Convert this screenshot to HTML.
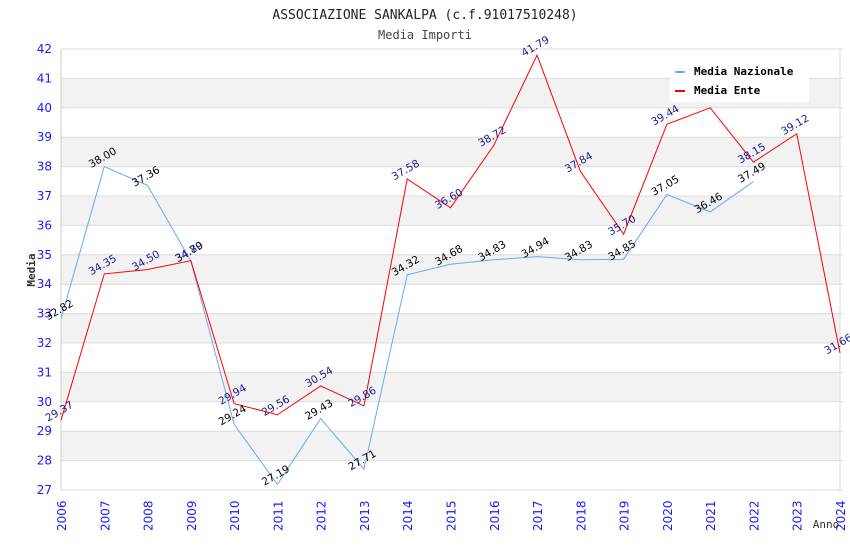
<!DOCTYPE html>
<html><head><meta charset="utf-8"><style>
body{margin:0;background:#fff}
svg{display:block}
text{font-family:"DejaVu Sans","Liberation Sans",sans-serif}
.mono{font-family:"DejaVu Sans Mono","Liberation Mono",monospace}
</style></head><body>
<svg id="chart" width="850" height="550" xmlns="http://www.w3.org/2000/svg">
<text class="mono" x="425" y="19" text-anchor="middle" font-size="13" fill="#222">ASSOCIAZIONE SANKALPA (c.f.91017510248)</text>
<text class="mono" x="425" y="39" text-anchor="middle" font-size="12" fill="#444">Media Importi</text>
<g id="bands"></g><g id="axes"></g><g id="series"></g><g id="labels"></g>
<text class="mono" transform="translate(35,270) rotate(-90)" text-anchor="middle" font-size="11" font-weight="bold" fill="#333">Media</text>
<text class="mono" x="826" y="528" text-anchor="middle" font-size="11" fill="#333">Anno</text>
<g>
<rect x="670" y="60" width="139" height="42" fill="#fff"/>
<rect x="675" y="71" width="10" height="2" fill="#66aaee"/>
<text class="mono" x="694" y="75" font-size="11" font-weight="bold" fill="#000">Media Nazionale</text>
<rect x="675" y="90" width="10" height="2" fill="#ff0000"/>
<text class="mono" x="694" y="94" font-size="11" font-weight="bold" fill="#000">Media Ente</text>
</g>
</svg>
<script>
const years=[2006,2007,2008,2009,2010,2011,2012,2013,2014,2015,2016,2017,2018,2019,2020,2021,2022,2023,2024];
const nazionale=[32.82,38.00,37.36,34.79,29.24,27.19,29.43,27.71,34.32,34.68,34.83,34.94,34.83,34.85,37.05,36.46,37.49];
const ente=[29.37,34.35,34.50,34.80,29.94,29.56,30.54,29.86,37.58,36.60,38.72,41.79,37.84,35.70,39.44,40.00,38.15,39.12,31.66];
const yTicks=[27,28,29,30,31,32,33,34,35,36,37,38,39,40,41,42];
const NS="http://www.w3.org/2000/svg";
const X0=61,X1=840,Y0=490,Y1=49;
const xs=i=>X0+(X1-X0)*i/(years.length-1);
const ys=v=>Y0-(v-27)/(42-27)*(Y0-Y1);
function mk(tag,attrs,parent){const e=document.createElementNS(NS,tag);for(const k in attrs)e.setAttribute(k,attrs[k]);parent.appendChild(e);return e;}
const bands=document.getElementById('bands'),axes=document.getElementById('axes'),ser=document.getElementById('series'),lab=document.getElementById('labels');
for(let t=28;t<42;t+=2){const r=mk('rect',{x:X0,y:ys(t+1),width:X1-X0,height:ys(t)-ys(t+1),fill:'#f2f2f2'},bands);

}
yTicks.forEach(t=>{const l=mk('line',{x1:X0,x2:X1+3,y1:ys(t),y2:ys(t),stroke:'#dcdcdc'},axes);


const tx=mk('text',{x:X0-9,y:ys(t)+4,'text-anchor':'end','font-size':12,fill:'#1a1aff'},axes);tx.textContent=t;

});
mk('line',{x1:X0,x2:X0,y1:Y1,y2:Y0,stroke:'#ccc'},axes);
mk('line',{x1:X1,x2:X1,y1:Y1,y2:Y0,stroke:'#ddd'},axes);
years.forEach((y,i)=>{const tx=mk('text',{transform:`translate(${xs(i)+5},${Y0+41}) rotate(-90)`,'font-size':12,fill:'#1a1aff'},axes);tx.textContent=y;

});
function line(data,color,name,lc){
const p=mk('polyline',{points:data.map((v,i)=>xs(i)+','+ys(v)).join(' '),fill:'none',stroke:color,'stroke-width':1},ser);


data.forEach((v,i)=>{if(name==='ente-line'&&i===15)return;
const t=mk('text',{transform:`translate(${xs(i)},${ys(v)-6}) rotate(-30)`,'text-anchor':'middle','font-size':10.5,fill:lc},lab);
t.textContent=v.toFixed(2);

});}
line(nazionale,'#66aaee','nazionale-line','#000');
line(ente,'#ff0000','ente-line','#1a1a8c');
</script>
</body></html>
